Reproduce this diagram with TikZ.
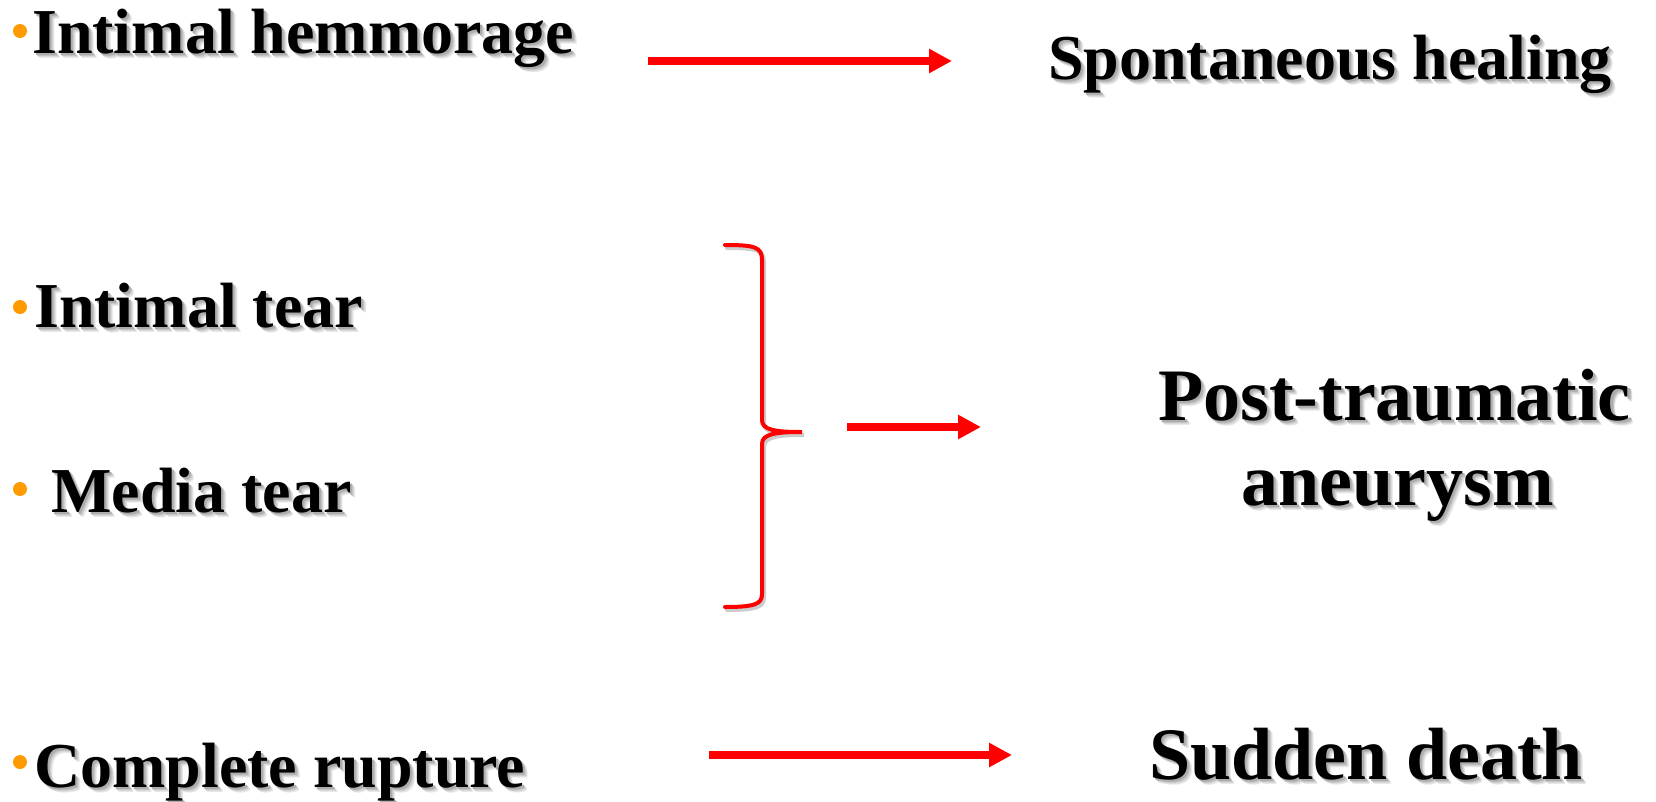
\documentclass[tikz,border=0pt]{standalone}
\usepackage{fontspec}
\setmainfont{Liberation Serif}
\usetikzlibrary{arrows.meta}
\definecolor{bulletorange}{HTML}{FF9A00}
\definecolor{arrred}{HTML}{FF0000}
\newcommand{\shtext}[1]{%
  \rlap{\kern5pt\raisebox{-5pt}{\color{black!9}#1}}%
  \rlap{\kern4pt\raisebox{-4pt}{\color{black!15}#1}}%
  \rlap{\kern3pt\raisebox{-3pt}{\color{black!23}#1}}%
  \rlap{\kern2pt\raisebox{-2pt}{\color{black!32}#1}}%
  #1}
\tikzset{
  lbl/.style={anchor=base west, inner sep=0pt, font=\fontsize{64}{70}\selectfont\bfseries},
  rbl/.style={anchor=base west, inner sep=0pt, font=\fontsize{74}{80}\selectfont\bfseries},
  dotb/.style={circle, fill=bulletorange, inner sep=0pt, minimum size=14pt},
  arr/.style={draw=arrred, line width=7.5pt, -{Triangle[length=23pt,width=23pt]}},
  bracestyle/.style={draw=arrred, line width=4pt, line cap=round},
}
\begin{document}
\begin{tikzpicture}[x=1pt, y=-1pt]
\useasboundingbox (0,0) rectangle (1656,801);
% left texts
\node[lbl] (t1) at (32,53) {\shtext{Intimal hemmorage}};
\node[lbl] (t2) at (34,327) {\shtext{Intimal tear}};
\node[lbl] (t3) at (51,512) {\shtext{Media tear}};
\node[lbl] (t4) at (34,787) {\shtext{Complete rupture}};
% bullets
\node[dotb] (b1) at (20,31) {};
\node[dotb] (b2) at (20,307) {};
\node[dotb] (b3) at (20,489) {};
\node[dotb] (b4) at (20,762) {};
% right texts
\node[lbl] (r1) at (1048,79) {\shtext{Spontaneous healing}};
\node[rbl] (r2a) at (1158,420) {\shtext{Post-traumatic}};
\node[rbl] (r2b) at (1241,505) {\shtext{aneurysm}};
\node[rbl] (r3) at (1149,779) {\shtext{Sudden death}};
% arrows
\coordinate (a1s) at (648,61);
\coordinate (a1e) at (952,61);
\coordinate (a2s) at (847,427);
\coordinate (a2e) at (981,427);
\coordinate (a3s) at (709,755);
\coordinate (a3e) at (1012,755);
\draw[arr] (a1s) -- (a1e);
\draw[arr] (a2s) -- (a2e);
\draw[arr] (a3s) -- (a3e);
% brace shadow
\draw[bracestyle, draw=black!20] (727,248) .. controls (757,248) and (764,250) .. (764,263) -- (764,423) .. controls (764,433) and (777,435) .. (804,435)
   .. controls (777,435) and (764,437) .. (764,447) -- (764,597) .. controls (764,607) and (757,610) .. (727,610);
% brace
\coordinate (btip) at (802,432);
\draw[bracestyle] (725,245) .. controls (755,245) and (762,247) .. (762,260) -- (762,420) .. controls (762,430) and (775,432) .. (btip)
   .. controls (775,432) and (762,434) .. (762,444) -- (762,594) .. controls (762,604) and (755,607) .. (725,607);
\end{tikzpicture}
\end{document}
